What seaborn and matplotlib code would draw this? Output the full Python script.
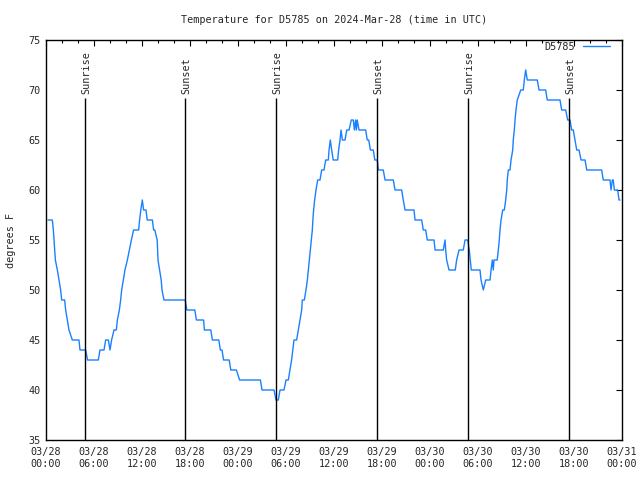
import matplotlib
matplotlib.use('Agg')
import matplotlib.pyplot as plt
import numpy as np
import pandas as pd
import seaborn as sns

# hours since 03/28 00:00 UTC, temperature in degrees F
hours = [
    0.25, 0.79, 0.92, 1.0, 1.17, 1.42, 1.62, 1.83, 1.96, 2.33, 2.46, 2.67, 2.87,
    3.29, 4.12, 4.25, 4.96, 5.2, 6.54, 6.75, 7.25, 7.46, 7.79, 8.0, 8.2, 8.5, 8.79,
    8.92, 9.17, 9.33, 9.46, 9.67, 9.87, 10.17, 10.42, 10.67, 10.95, 11.58, 11.7,
    11.85, 12.04, 12.2, 12.5, 12.65, 13.3, 13.45, 13.6, 13.9, 14.0, 14.2, 14.4,
    14.5, 14.75, 17.4,
    17.6, 18.6, 18.8, 19.7, 19.8, 20.6, 20.8, 21.6, 21.8, 22.0, 22.2, 22.9, 23.1,
    23.8, 24.2, 26.8, 27.0, 28.5, 28.75, 29.04,
    29.25, 29.75, 30.0, 30.29, 30.5, 30.7, 30.85, 31.0, 31.33, 31.54, 31.75, 31.96,
    32.04, 32.29, 32.5, 32.67, 32.79, 32.92, 33.04, 33.17, 33.29, 33.36, 33.45,
    33.58, 33.75, 33.96, 34.25, 34.46, 34.75, 34.96, 35.29, 35.38, 35.54, 35.71,
    35.9, 36.46, 36.58, 36.75, 36.88, 37.05, 37.38, 37.59, 37.88, 38.16, 38.41,
    38.55, 38.7, 38.8, 38.9, 39.13, 39.96, 40.16, 40.34, 40.55, 40.91, 41.1, 41.41,
    41.55, 42.16, 42.38, 43.41, 43.63, 44.46, 44.66, 44.88, 46.0, 46.13, 46.96,
    47.16, 47.46, 47.66, 48.5, 48.63, 49.66, 49.88, 49.96, 50.08, 50.38, 51.16,
    51.33, 51.63, 52.16, 52.38, 52.71, 52.91, 53.04, 53.16, 54.25,
    54.38, 54.66, 54.96, 55.5, 55.63, 55.79, 55.91, 56.0, 56.4, 56.54, 56.66, 56.75,
    56.88, 57.09, 57.29, 57.46, 57.59, 57.66, 57.79, 58.0, 58.13, 58.34, 58.41,
    58.54, 58.63, 58.75, 58.91, 59.34, 59.66, 59.79, 59.96, 60.16, 61.41, 61.63,
    62.46, 62.66, 64.25, 64.46, 64.96, 65.21, 65.5, 65.71, 65.91, 66.13, 66.34,
    66.63, 66.88, 67.38, 67.59, 69.46, 69.66, 70.5, 70.63, 70.79, 70.91, 71.04,
    71.46, 71.63, 71.75,
]
temp_f = [
    57, 57, 56, 55, 53, 52, 51, 50, 49, 49, 48, 47, 46,
    45, 45, 44, 44, 43, 43, 44, 44, 45, 45, 44, 45, 46, 46,
    47, 48, 49, 50, 51, 52, 53, 54, 55, 56, 56, 57,
    58, 59, 58, 58, 57, 57, 56, 56, 55, 53, 52, 51,
    50, 49, 49,
    48, 48, 47, 47, 46, 46, 45, 45, 44, 44, 43, 43, 42,
    42, 41, 41, 40, 40, 39, 39,
    40, 40, 41, 41, 42, 43, 44, 45, 45, 46, 47, 48,
    49, 49, 50, 51, 52, 53, 54, 55, 56, 57, 58,
    59, 60, 61, 61, 62, 62, 63, 63, 64, 65, 64,
    63, 63, 64, 65, 66, 65, 65, 66, 66, 67, 67,
    66, 67, 66, 67, 66, 66, 65, 65, 64, 64, 63, 63,
    62, 62, 61, 61, 60, 60, 59, 58, 58, 57, 57,
    56, 56, 55, 55, 54, 54, 55, 54, 53, 52, 52,
    53, 54, 54, 55, 55, 54, 53, 52, 52,
    51, 50, 51, 51, 52, 53, 52, 53, 53, 54, 55, 56,
    57, 58, 58, 59, 60, 61, 62, 62, 63, 64, 65,
    66, 67, 68, 69, 70, 70, 71, 72, 71, 71, 70,
    70, 69, 69, 68, 68, 67, 67, 66, 66, 65, 64,
    64, 63, 63, 62, 62, 61, 61, 60, 61, 61, 60,
    60, 59, 59,
]

sunrise = [4.85, 28.8, 52.8]
sunset = [17.4, 41.4, 65.4]

tick_hours = list(range(0, 73, 6))
tick_labels = ['03/28\n00:00', '03/28\n06:00', '03/28\n12:00', '03/28\n18:00',
               '03/29\n00:00', '03/29\n06:00', '03/29\n12:00', '03/29\n18:00',
               '03/30\n00:00', '03/30\n06:00', '03/30\n12:00', '03/30\n18:00',
               '03/31\n00:00']

sns.set_style('white')
plt.rcParams['font.family'] = ['DejaVu Sans Mono']
plt.rcParams['font.size'] = 7.3

fig = plt.figure(figsize=(6.4, 4.8), dpi=100)
ax = fig.add_axes([46 / 640, 40 / 480, 576 / 640, 400 / 480])

df = pd.DataFrame({'hours': hours, 'temp': temp_f})
sns.lineplot(data=df, x='hours', y='temp', ax=ax, color='#1a80ff', lw=1.0,
             estimator=None, sort=False, label='D5785')

# sunrise / sunset markers
for t in sunrise:
    ax.vlines(t, 35, 69.2, color='black', lw=1.0)
    ax.text(t + 0.15, 69.6, 'Sunrise', rotation=90, ha='center', va='bottom')
for t in sunset:
    ax.vlines(t, 35, 69.2, color='black', lw=1.0)
    ax.text(t + 0.15, 69.6, 'Sunset', rotation=90, ha='center', va='bottom')

ax.set_xlim(0, 72)
ax.set_ylim(35, 75)
ax.set_xticks(tick_hours)
ax.set_xticklabels(tick_labels)
ax.set_xticks(np.arange(0, 73, 2), minor=True)
ax.set_yticks(np.arange(35, 76, 5))
ax.tick_params(which='both', direction='in', top=True, right=True, color='black')
ax.tick_params(which='major', length=4, width=0.8)
ax.tick_params(which='minor', length=2, width=0.8)
ax.tick_params(axis='x', pad=5)
ax.tick_params(axis='y', pad=4)
for s in ax.spines.values():
    s.set_color('black')
    s.set_linewidth(1.0)

ax.set_xlabel('')
ax.set_ylabel('')
fig.text(11 / 640, 0.5, 'degrees F', rotation=90, ha='center', va='center')
fig.text(334 / 640, 1 - 20 / 480, 'Temperature for D5785 on 2024-Mar-28 (time in UTC)',
         ha='center', va='center')

ax.legend(loc='upper right', bbox_to_anchor=(0.979, 0.995), frameon=False,
          markerfirst=False, handlelength=2.7, handletextpad=0.7,
          borderaxespad=0, borderpad=0)

fig.savefig('out.png', dpi=100)
